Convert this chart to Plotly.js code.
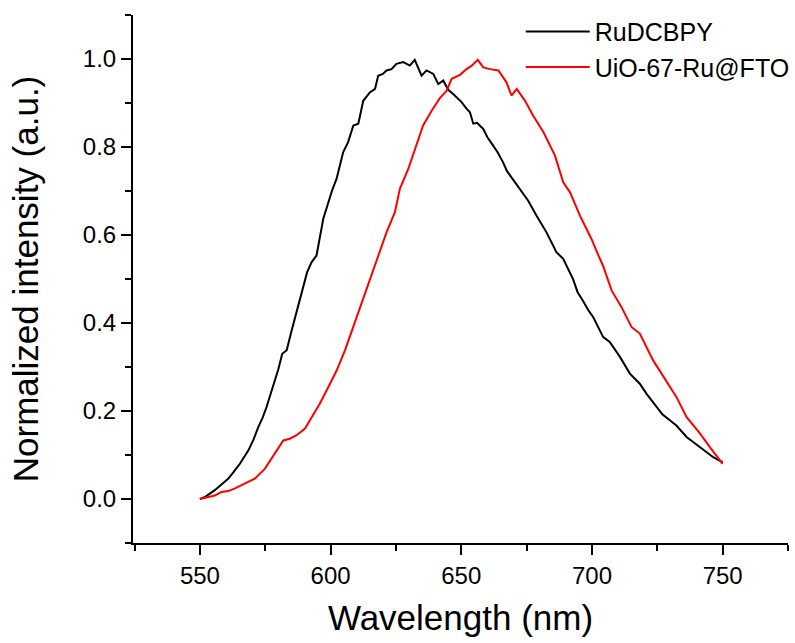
<!DOCTYPE html>
<html>
<head>
<meta charset="utf-8">
<script src="https://cdn.plot.ly/plotly-3.0.1.min.js"></script>
<style>html,body{margin:0;padding:0;background:#fff;}#chart{width:795px;height:643px;}</style>
</head>
<body>
<div id="chart"></div>
<script>
// RuDCBPY (black)
const ruWavelength = [550.0,552.0,555.7,558.0,560.8,563.0,565.3,568.5,570.5,572.3,574.0,575.5,577.0,578.7,580.0,581.5,583.2,585.1,587.0,588.2,589.5,591.0,592.7,594.6,597.2,599.1,600.5,602.3,604.8,606.7,608.7,610.6,612.5,615.0,617.0,618.2,620.0,621.4,623.3,625.2,627.8,630.3,632.2,634.8,636.7,639.3,641.2,643.1,645.0,647.0,650.1,652.0,653.3,654.6,656.0,658.4,660.0,662.2,664.0,666.0,667.5,669.2,672.4,675.6,678.8,682.6,686.4,689.0,692.8,694.5,696.6,698.5,700.5,704.3,706.8,710.7,714.5,718.3,720.9,724.7,727.0,729.8,732.3,736.2,741.3,746.4,750.0];
const ruIntensity = [0.000,0.005,0.020,0.032,0.046,0.062,0.080,0.110,0.135,0.163,0.185,0.209,0.238,0.270,0.295,0.330,0.338,0.383,0.425,0.450,0.485,0.515,0.538,0.553,0.637,0.675,0.700,0.728,0.788,0.811,0.849,0.853,0.905,0.924,0.932,0.962,0.966,0.974,0.977,0.989,0.993,0.985,0.998,0.962,0.974,0.966,0.943,0.951,0.930,0.920,0.902,0.887,0.879,0.853,0.855,0.841,0.822,0.803,0.787,0.765,0.745,0.731,0.705,0.678,0.644,0.606,0.561,0.546,0.499,0.470,0.450,0.430,0.413,0.368,0.357,0.323,0.285,0.262,0.239,0.209,0.192,0.179,0.167,0.141,0.118,0.095,0.083];

// UiO-67-Ru@FTO (red)
const uioWavelength = [550.0,553.0,555.7,558.3,560.8,563.4,567.2,571.0,574.9,578.1,581.9,584.4,587.0,590.2,592.7,595.9,599.1,602.3,605.5,608.0,610.6,613.8,617.6,621.4,624.6,626.5,629.7,632.9,635.4,638.6,641.8,644.4,646.3,649.5,652.0,654.0,656.3,658.4,661.0,664.2,667.3,669.2,671.2,674.4,677.5,681.4,685.8,689.0,691.6,695.4,699.8,702.0,704.3,707.5,711.3,715.1,718.3,723.4,728.5,732.3,736.2,741.3,745.1,750.0];
const uioIntensity = [0.000,0.004,0.008,0.016,0.018,0.024,0.035,0.046,0.069,0.099,0.133,0.137,0.145,0.160,0.186,0.217,0.254,0.292,0.338,0.380,0.425,0.478,0.546,0.606,0.652,0.705,0.750,0.803,0.849,0.882,0.911,0.928,0.955,0.964,0.977,0.985,0.998,0.981,0.977,0.974,0.947,0.917,0.932,0.905,0.871,0.834,0.781,0.720,0.697,0.644,0.591,0.560,0.529,0.474,0.436,0.391,0.376,0.315,0.269,0.232,0.186,0.149,0.118,0.080];

const seriesNames = ['RuDCBPY', 'UiO-67-Ru@FTO'];
const xTickVals = [550, 600, 650, 700, 750];
const yTickVals = [0.0, 0.2, 0.4, 0.6, 0.8, 1.0];

const FONT = 'Liberation Sans, Arial, sans-serif';

const traces = [
  {x: ruWavelength, y: ruIntensity, name: seriesNames[0], type: 'scatter', mode: 'lines',
   line: {color: '#000000', width: 2}},
  {x: uioWavelength, y: uioIntensity, name: seriesNames[1], type: 'scatter', mode: 'lines',
   line: {color: '#ff0000', width: 2}}
];

const layout = {
  width: 795, height: 643,
  margin: {l: 133, r: 7, t: 15, b: 100, autoexpand: false},
  paper_bgcolor: '#ffffff', plot_bgcolor: '#ffffff',
  font: {family: FONT, color: '#000000', size: 24},
  showlegend: true,
  legend: {x: 0.592, y: 1.012, xanchor: 'left', yanchor: 'top', bgcolor: 'rgba(0,0,0,0)',
           font: {family: FONT, size: 25, color: '#000'}, itemwidth: 64, tracegroupgap: 0},
  xaxis: {
    range: [524.4, 775], tickmode: 'array', tickvals: xTickVals, ticktext: xTickVals.map(String),
    ticks: 'outside', ticklen: 10, tickwidth: 2, tickcolor: '#000',
    minor: {dtick: 25, tick0: 525, ticks: 'outside', ticklen: 6, tickwidth: 2, tickcolor: '#000'},
    showline: true, linecolor: '#000', linewidth: 2, mirror: false,
    showgrid: false, zeroline: false,
    tickfont: {family: FONT, size: 24, color: '#000'},
    title: {text: 'Wavelength (nm)', font: {family: FONT, size: 35, color: '#000'}, standoff: 18}
  },
  yaxis: {
    range: [-0.1, 1.1], tickmode: 'array', tickvals: yTickVals, ticktext: yTickVals.map(v => v.toFixed(1)),
    ticks: 'outside', ticklen: 10, tickwidth: 2, tickcolor: '#000',
    minor: {dtick: 0.1, tick0: 0, ticks: 'outside', ticklen: 6, tickwidth: 2, tickcolor: '#000'},
    showline: true, linecolor: '#000', linewidth: 2, mirror: false,
    showgrid: false, zeroline: false,
    tickfont: {family: FONT, size: 24, color: '#000'},
    title: {text: 'Normalized intensity (a.u.)', font: {family: FONT, size: 35, color: '#000'}, standoff: 34}
  }
};

Plotly.newPlot('chart', traces, layout, {displayModeBar: false, staticPlot: true});
</script>
</body>
</html>
